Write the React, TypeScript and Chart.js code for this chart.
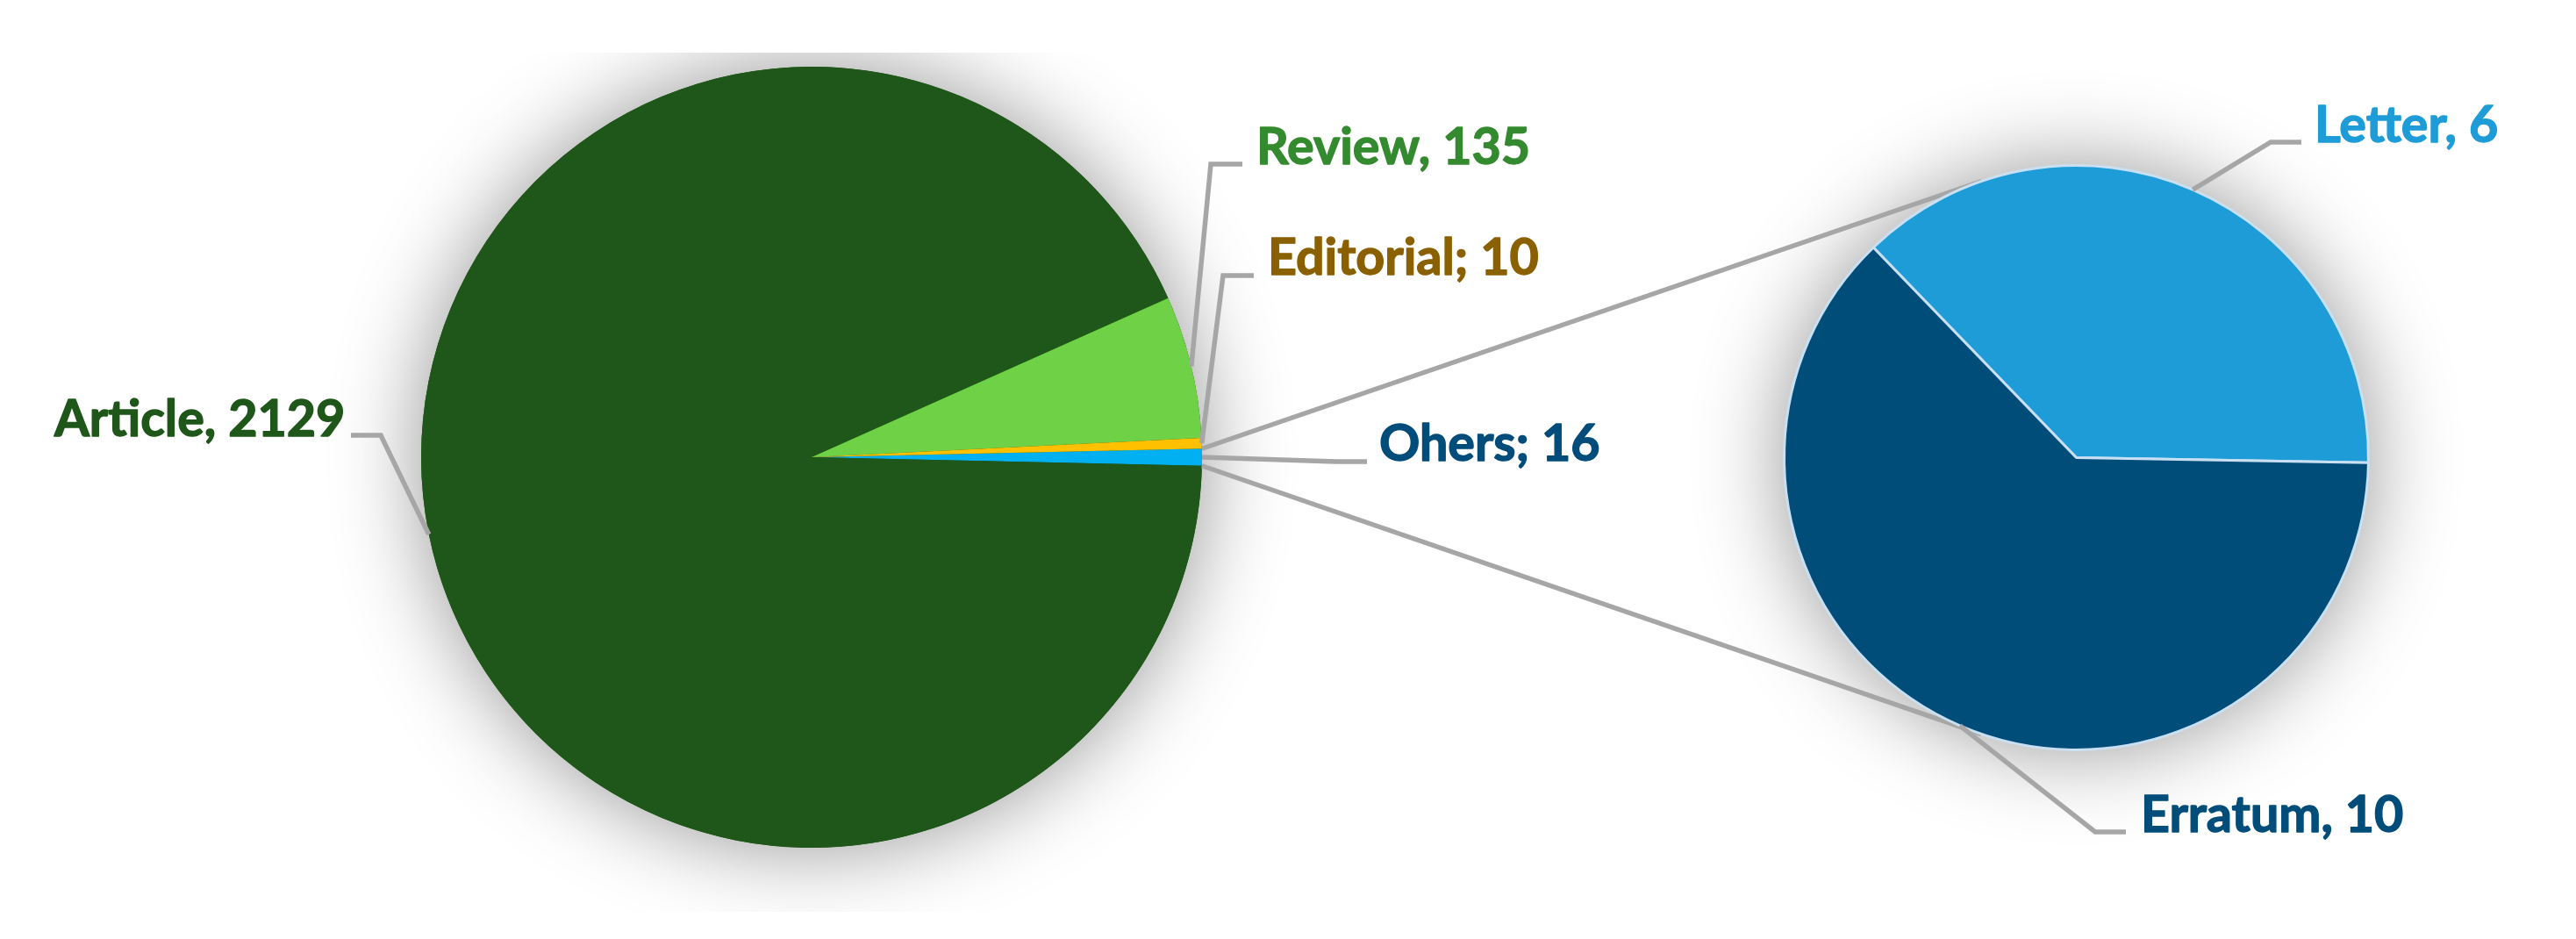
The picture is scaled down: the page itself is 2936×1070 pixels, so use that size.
import React, { useEffect, useRef } from 'react';
import { Chart, registerables } from 'chart.js';

Chart.register(...registerables);

// ---- data ----
const mainCategories = ['Ohers', 'Article', 'Review', 'Editorial'];
const mainValues = [16, 2129, 135, 10];
const mainSeparators = ['; ', ', ', ', ', '; '];

const subCategories = ['Letter', 'Erratum'];
const subValues = [6, 10];
const subSeparators = [', ', ', '];

// ---- styles / layout ----
const W = 2936;
const H = 1070;
const mainColors = ['#00B0F0', '#1F5619', '#6FD145', '#FFC000'];
const mainLabelColors = ['#004C7A', '#1F5619', '#348A2F', '#8B6000'];
const subColors = ['#1E9CD8', '#004D7A'];
const subLabelColors = ['#1E9CD8', '#004D7A'];

const FONT = 'bold 58px Lato, "Open Sans", sans-serif';
const TEXT_SX = 0.99;
const LEADER = '#A6A6A6';
const LEADER_W = 5.5;

type LabelLayout = { x: number; y: number; elbowX: number; endX: number; lineY: number };

const mainLabelLayout: LabelLayout[] = [
  { x: 1572, y: 525, elbowX: 1523, endX: 1558, lineY: 526 },
  { x: 62, y: 497, elbowX: 434, endX: 400, lineY: 496 },
  { x: 1432, y: 187, elbowX: 1380, endX: 1416, lineY: 187 },
  { x: 1445, y: 313, elbowX: 1394, endX: 1429, lineY: 314 },
];
const subLabelLayout: LabelLayout[] = [
  { x: 2638, y: 162, elbowX: 2588, endX: 2623, lineY: 162 },
  { x: 2440, y: 948, elbowX: 2388, endX: 2423, lineY: 948 },
];

const CLIP_TOP = 60;
const CLIP_BOTTOM = 1039;

function shadowPlugin(id: string, fill: string) {
  return {
    id,
    beforeDatasetsDraw(chart: any) {
      const arc: any = chart.getDatasetMeta(0).data[0];
      if (!arc) return;
      const ctx = chart.ctx as CanvasRenderingContext2D;
      ctx.save();
      ctx.beginPath();
      ctx.rect(0, CLIP_TOP, chart.width, CLIP_BOTTOM - CLIP_TOP);
      ctx.clip();
      ctx.shadowColor = 'rgba(0,0,0,0.42)';
      ctx.shadowBlur = 100;
      ctx.fillStyle = fill;
      ctx.beginPath();
      ctx.arc(arc.x, arc.y, arc.outerRadius, 0, Math.PI * 2);
      ctx.fill();
      ctx.restore();
    },
  };
}

function labelPlugin(id: string, texts: string[], colors: string[], layout: LabelLayout[]) {
  return {
    id,
    afterDatasetsDraw(chart: any) {
      const ctx = chart.ctx as CanvasRenderingContext2D;
      const arcs: any[] = chart.getDatasetMeta(0).data;
      ctx.save();
      arcs.forEach((arc, i) => {
        const L = layout[i];
        const mid = (arc.startAngle + arc.endAngle) / 2;
        const px = arc.x + Math.cos(mid) * arc.outerRadius;
        const py = arc.y + Math.sin(mid) * arc.outerRadius;
        ctx.strokeStyle = LEADER;
        ctx.lineWidth = LEADER_W;
        ctx.lineJoin = 'miter';
        ctx.beginPath();
        ctx.moveTo(px, py);
        ctx.lineTo(L.elbowX, L.lineY);
        ctx.lineTo(L.endX, L.lineY);
        ctx.stroke();

        ctx.fillStyle = colors[i];
        ctx.strokeStyle = colors[i];
        ctx.lineWidth = 1.4;
        ctx.lineJoin = 'round';
        ctx.font = FONT;
        ctx.textAlign = 'left';
        ctx.textBaseline = 'alphabetic';
        ctx.save();
        ctx.translate(L.x, L.y);
        ctx.scale(TEXT_SX, 1);
        ctx.fillText(texts[i], 0, 0);
        ctx.strokeText(texts[i], 0, 0);
        ctx.restore();
      });
      ctx.restore();
    },
  };
}

function connectorPlugin(getMain: () => Chart | null, othersIndex: number) {
  return {
    id: 'connectors',
    beforeDatasetsDraw(chart: any) {
      const main: any = getMain();
      if (!main) return;
      const src: any = main.getDatasetMeta(0).data[othersIndex];
      const dst: any = chart.getDatasetMeta(0).data[0];
      if (!src || !dst) return;
      const cx = dst.x, cy = dst.y, r = dst.outerRadius;
      const p1 = { x: src.x + Math.cos(src.startAngle) * src.outerRadius, y: src.y + Math.sin(src.startAngle) * src.outerRadius };
      const p2 = { x: src.x + Math.cos(src.endAngle) * src.outerRadius, y: src.y + Math.sin(src.endAngle) * src.outerRadius };
      const tangent = (p: { x: number; y: number }, sign: number) => {
        const dx = p.x - cx, dy = p.y - cy;
        const d = Math.hypot(dx, dy);
        const base = Math.atan2(dy, dx);
        const delta = Math.acos(r / d);
        const a = base + sign * delta;
        return { x: cx + Math.cos(a) * r, y: cy + Math.sin(a) * r };
      };
      const t1 = tangent(p1, 1);
      const t2 = tangent(p2, -1);
      const ctx = chart.ctx as CanvasRenderingContext2D;
      ctx.save();
      ctx.strokeStyle = LEADER;
      ctx.lineWidth = LEADER_W;
      ctx.beginPath();
      ctx.moveTo(p1.x, p1.y);
      ctx.lineTo(t1.x, t1.y);
      ctx.moveTo(p2.x, p2.y);
      ctx.lineTo(t2.x, t2.y);
      ctx.stroke();
      ctx.restore();
    },
  };
}

export default function App() {
  const mainRef = useRef<HTMLCanvasElement | null>(null);
  const subRef = useRef<HTMLCanvasElement | null>(null);

  useEffect(() => {
    document.body.style.margin = '0';
    if (!mainRef.current || !subRef.current) return;

    const mainTotal = mainValues.reduce((a, b) => a + b, 0);
    const mainRotation = 90 - ((mainValues[0] / mainTotal) * 360) / 2;
    const mainTexts = mainCategories.map((c, i) => `${c}${mainSeparators[i]}${mainValues[i]}`);
    const subTexts = subCategories.map((c, i) => `${c}${subSeparators[i]}${subValues[i]}`);

    const mainChart = new Chart(mainRef.current, {
      type: 'pie',
      data: {
        labels: mainCategories,
        datasets: [
          {
            data: mainValues,
            backgroundColor: mainColors,
            borderWidth: 0,
          },
        ],
      },
      options: {
        responsive: false,
        animation: false,
        rotation: mainRotation,
        layout: { padding: { left: 480, right: 1566, top: 76, bottom: 104 } },
        plugins: { legend: { display: false }, tooltip: { enabled: false } },
        events: [],
      },
      plugins: [shadowPlugin('mainShadow', mainColors[1]), labelPlugin('mainLabels', mainTexts, mainLabelColors, mainLabelLayout)],
    });

    const subChart = new Chart(subRef.current, {
      type: 'pie',
      data: {
        labels: subCategories,
        datasets: [
          {
            data: subValues,
            backgroundColor: subColors,
            borderColor: '#C9DFF2',
            borderWidth: 3,
          },
        ],
      },
      options: {
        responsive: false,
        animation: false,
        rotation: -44,
        layout: { padding: { left: 2032, right: 235, top: 187, bottom: 214 } },
        plugins: { legend: { display: false }, tooltip: { enabled: false } },
        events: [],
      },
      plugins: [
        shadowPlugin('subShadow', subColors[1]),
        connectorPlugin(() => mainChart, 0),
        labelPlugin('subLabels', subTexts, subLabelColors, subLabelLayout),
      ],
    });

    return () => {
      subChart.destroy();
      mainChart.destroy();
    };
  }, []);

  return (
    <div style={{ position: 'fixed', left: 0, top: 0, width: W, height: H, background: '#fff', overflow: 'hidden' }}>
      <canvas ref={mainRef} width={W} height={H} style={{ position: 'absolute', left: 0, top: 0, width: W, height: H }} />
      <canvas ref={subRef} width={W} height={H} style={{ position: 'absolute', left: 0, top: 0, width: W, height: H }} />
    </div>
  );
}
